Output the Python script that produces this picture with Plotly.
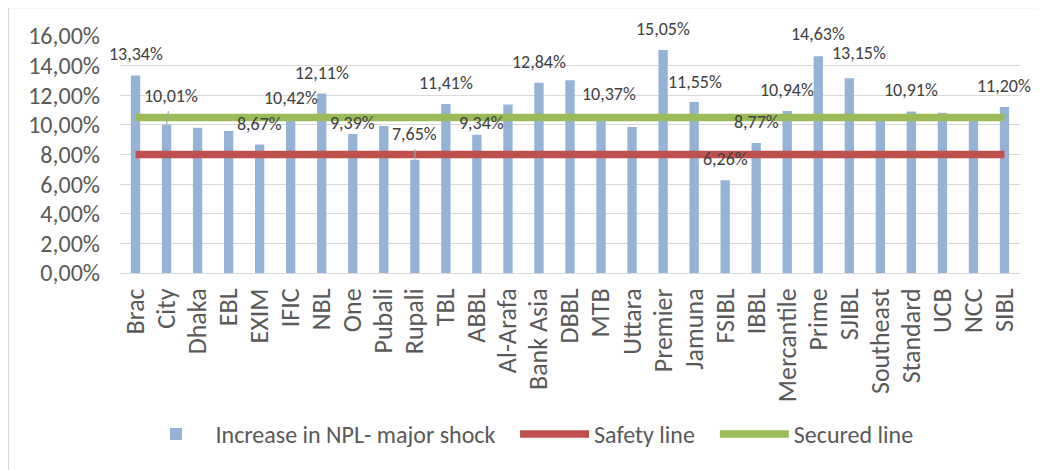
import plotly.graph_objects as go

banks = ["Brac", "City", "Dhaka", "EBL", "EXIM", "IFIC", "NBL", "One", "Pubali", "Rupali",
         "TBL", "ABBL", "Al-Arafa", "Bank Asia", "DBBL", "MTB", "Uttara", "Premier", "Jamuna",
         "FSIBL", "IBBL", "Mercantile", "Prime", "SJIBL", "Southeast", "Standard", "UCB", "NCC", "SIBL"]
npl_increase = [13.34, 10.01, 9.81, 9.59, 8.67, 10.42, 12.11, 9.39, 9.92, 7.65,
                11.41, 9.34, 11.38, 12.84, 13.02, 10.37, 9.86, 15.05, 11.55,
                6.26, 8.77, 10.94, 14.63, 13.15, 10.45, 10.91, 10.82, 10.40, 11.20]
safety_level = 8.0
secured_level = 10.5
safety_line = [safety_level] * len(banks)
secured_line = [secured_level] * len(banks)

# banks whose value label is shown, with label offset (px) from the bar top and leader flag
labelled = {
    "Brac": (0, -21, False), "City": (4, -29, True), "EXIM": (0, -21, False),
    "IFIC": (0, -21, False), "NBL": (0, -21, False), "One": (0, -11, False),
    "Rupali": (0, -26, True), "TBL": (0, -21, False), "ABBL": (5, -12, False),
    "Bank Asia": (0, -21, False), "MTB": (8, -25, False), "Premier": (0, -21, False),
    "Jamuna": (1, -20, False), "FSIBL": (0, -21, False), "IBBL": (0, -21, False),
    "Mercantile": (0, -21, False), "Prime": (0, -22, False), "SJIBL": (10, -25, False),
    "Standard": (0, -21, False), "SIBL": (0, -21, False),
}

FONT = "Calibri, Carlito, Lato, sans-serif"
fig = go.Figure()
fig.add_trace(go.Bar(x=banks, y=npl_increase, name="Increase in NPL- major shock",
                     marker=dict(color="#95B3D7", line=dict(width=0)), legend="legend"))
fig.add_trace(go.Scatter(x=banks, y=safety_line, name="Safety line", mode="lines",
                         line=dict(color="#C0504D", width=7.5), legend="legend2"))
fig.add_trace(go.Scatter(x=banks, y=secured_line, name="Secured line", mode="lines",
                         line=dict(color="#9BBB59", width=7.5), legend="legend3"))

annotations = []
for b, v in zip(banks, npl_increase):
    if b in labelled:
        dx, dy, leader = labelled[b]
        annotations.append(dict(
            x=b, y=v, xref="x", yref="y", text=f"{v:.2f}%".replace(".", ","),
            showarrow=True, ax=dx, ay=dy, arrowhead=0, arrowwidth=1.2,
            arrowcolor="#A6A6A6" if leader else "rgba(0,0,0,0)", startstandoff=3,
            font=dict(family=FONT, size=18, color="#404040")))

# the page body adds an 8px offset; the figure is sized so it ends at the window edge
OFF = 8
W, H = 1045 - OFF, 470 - OFF
ml, mt = 119.5 - OFF, 35.7 - OFF
mr, mb = 1045 - 1020.5, 470 - 273.3
pw, ph = W - ml - mr, H - mt - mb
def px_x(p):  # page pixel -> paper x
    return (p - OFF - ml) / pw
def px_y(p):  # page pixel -> paper y
    return (H - mb - (p - OFF)) / ph

shapes = [
    dict(type="line", xref="paper", yref="paper", x0=px_x(7.5), x1=px_x(7.5),
         y0=px_y(7), y1=px_y(475), line=dict(color="#D9D9D9", width=2)),
    dict(type="line", xref="paper", yref="paper", x0=px_x(7.5), x1=px_x(1050),
         y0=px_y(7), y1=px_y(7), line=dict(color="#D9D9D9", width=2)),
]

leg_font = dict(family=FONT, size=24, color="#595959")
def leg(px_left):
    return dict(orientation="h", x=px_x(px_left), xanchor="left", y=px_y(435),
                yanchor="middle", font=leg_font, itemwidth=69, bgcolor="rgba(0,0,0,0)")

fig.update_layout(
    width=W, height=H, margin=dict(l=ml, r=mr, t=mt, b=mb, autoexpand=False),
    paper_bgcolor="white", plot_bgcolor="white",
    separators=",.", bargap=0.7,
    font=dict(family=FONT, size=23, color="#595959"),
    showlegend=True,
    legend=leg(136), legend2=leg(515), legend3=leg(715),
    annotations=annotations, shapes=shapes,
    xaxis=dict(range=[-0.5, len(banks) - 0.5], tickangle=-90, showline=True,
               linecolor="#D9D9D9", linewidth=1,
               showgrid=False, ticks="", ticklabelstandoff=4, automargin=False,
               tickfont=dict(family=FONT, size=26, color="#595959")),
    yaxis=dict(range=[0, 16], dtick=2, tickformat=".2f", ticksuffix="%",
               showgrid=True, gridcolor="#D9D9D9", gridwidth=1, zeroline=False,
               showline=False, ticks="", ticklabelstandoff=19, automargin=False,
               tickfont=dict(family=FONT, size=24, color="#595959")),
)

fig.write_html("out.html")
